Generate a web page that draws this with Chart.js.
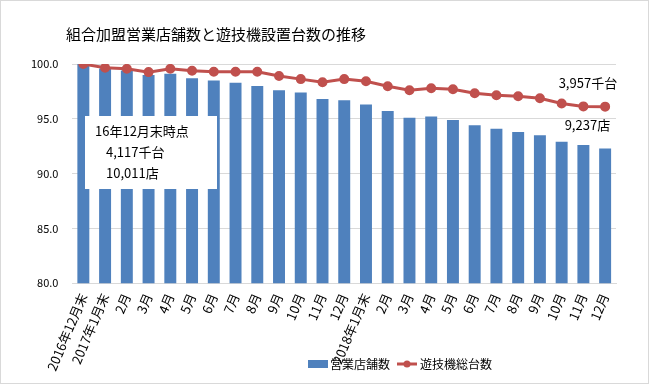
<!DOCTYPE html>
<html>
<head>
<meta charset="utf-8">
<script src="https://cdn.jsdelivr.net/npm/chart.js@4.4.1/dist/chart.umd.min.js"></script>
<style>
  html, body { margin: 0; padding: 0; background: #fff; }
  #wrap { position: relative; width: 647px; height: 382px; border: 1px solid #d9d9d9; }
</style>
</head>
<body>
<div id="wrap"><canvas id="mainChart"></canvas></div>
<script>
// 2016年12月末 = 100 とした指数
var categories = ['2016年12月末', '2017年1月末', '2月', '3月', '4月', '5月', '6月', '7月', '8月', '9月', '10月', '11月', '12月',
                  '2018年1月末', '2月', '3月', '4月', '5月', '6月', '7月', '8月', '9月', '10月', '11月', '12月'];
var storeIndex = [100.0, 99.6, 99.4, 99.0, 99.1, 98.7, 98.5, 98.3, 98.0, 97.6, 97.4, 96.8, 96.7,
                  96.3, 95.7, 95.1, 95.2, 94.9, 94.4, 94.1, 93.8, 93.5, 92.9, 92.6, 92.3];
var machineIndex = [100.0, 99.65, 99.56, 99.26, 99.56, 99.38, 99.29, 99.29, 99.29, 98.9, 98.62, 98.34, 98.62,
                    98.43, 97.97, 97.6, 97.79, 97.7, 97.33, 97.14, 97.05, 96.87, 96.4, 96.13, 96.11];
var yTicks = [80, 85, 90, 95, 100];

var seriesNames = ['営業店舗数', '遊技機総台数'];
var titleText = '組合加盟営業店舗数と遊技機設置台数の推移';
var baseNote = ['16年12月末時点', '4,117千台', '10,011店'];
var lastMachine = '3,957千台';
var lastStore = '9,237店';

var blue = '#4f81bd';
var red = '#c0504d';
var jpFont = '"Noto Sans CJK JP", sans-serif';

// タイトル・注記・凡例を描画
var extras = {
    id: 'extras',
    afterDraw: function(chart) {
        var ctx = chart.ctx;
        var xs = chart.scales.x, ys = chart.scales.y;
        ctx.save();
        ctx.fillStyle = '#000';
        ctx.textBaseline = 'middle';
        ctx.font = '15px ' + jpFont;
        ctx.fillText(titleText, 65, 33);

        // 基準時点の注記ボックス
        ctx.fillStyle = '#fff';
        ctx.fillRect(84, 115, 132, 73);
        ctx.fillStyle = '#000';
        ctx.font = '13px ' + jpFont;
        ctx.fillText(baseNote[0], 94, 130);
        ctx.fillText(baseNote[1], 105, 151);
        ctx.fillText(baseNote[2], 105, 172);

        // 最終月の注記
        var lx = xs.getPixelForValue(categories.length - 1);
        ctx.textAlign = 'right';
        ctx.fillText(lastMachine, lx + 12, ys.getPixelForValue(machineIndex[machineIndex.length - 1]) - 24);
        ctx.fillText(lastStore, lx + 5, ys.getPixelForValue(storeIndex[storeIndex.length - 1]) - 23);

        // 凡例
        ctx.textAlign = 'left';
        ctx.font = '12px ' + jpFont;
        ctx.fillStyle = blue;
        ctx.fillRect(307, 359, 20, 8);
        ctx.fillStyle = '#000';
        ctx.fillText(seriesNames[0], 329, 363);
        ctx.strokeStyle = red;
        ctx.lineWidth = 3;
        ctx.beginPath();
        ctx.moveTo(396, 363);
        ctx.lineTo(416, 363);
        ctx.stroke();
        ctx.fillStyle = red;
        ctx.beginPath();
        ctx.arc(406, 363, 3.5, 0, Math.PI * 2);
        ctx.fill();
        ctx.fillStyle = '#000';
        ctx.fillText(seriesNames[1], 419, 363);
        ctx.restore();
    }
};

var ctxMain = document.getElementById('mainChart').getContext('2d');
var mainChart = new Chart(ctxMain, {
    type: 'bar',
    data: {
        labels: categories,
        datasets: [{
            type: 'line',
            label: seriesNames[1],
            data: machineIndex,
            borderColor: red,
            backgroundColor: red,
            borderWidth: 3,
            pointRadius: 3.5,
            pointHoverRadius: 3.5,
            tension: 0,
            order: 0
        }, {
            label: seriesNames[0],
            data: storeIndex,
            backgroundColor: blue,
            categoryPercentage: 1.0,
            barPercentage: 0.55,
            order: 1
        }]
    },
    options: {
        responsive: true,
        maintainAspectRatio: false,
        animation: false,
        layout: { padding: { top: 63, left: 16, right: 32, bottom: 10 } },
        plugins: {
            legend: { display: false },
            title: { display: false },
            tooltip: { enabled: false }
        },
        scales: {
            x: {
                grid: { display: false },
                border: { color: '#d9d9d9' },
                ticks: {
                    color: '#000',
                    font: { family: jpFont, size: 13 },
                    minRotation: 67,
                    maxRotation: 67,
                    autoSkip: false,
                    padding: 0
                }
            },
            y: {
                min: 80,
                max: 100,
                afterBuildTicks: function(axis) {
                    axis.ticks = yTicks.map(function(v) { return { value: v }; });
                },
                grid: { color: '#d9d9d9', drawTicks: false },
                border: { display: false },
                ticks: {
                    color: '#000',
                    font: { family: jpFont, size: 11 },
                    padding: 14,
                    callback: function(v) { return Number(v).toFixed(1); }
                }
            }
        }
    },
    plugins: [extras]
});
</script>
</body>
</html>
